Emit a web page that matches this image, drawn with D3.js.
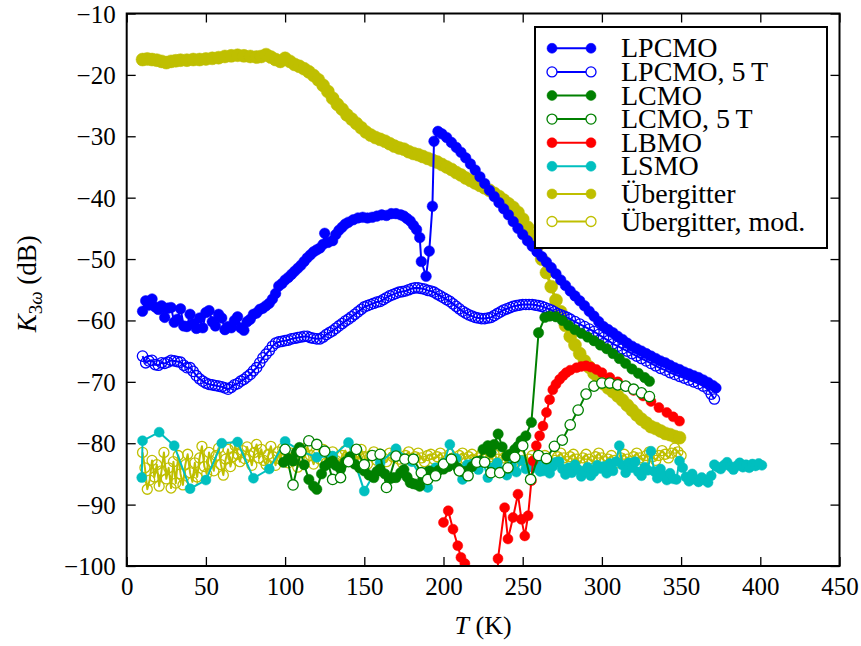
<!DOCTYPE html>
<html>
<head>
<meta charset="utf-8">
<script src="https://cdn.jsdelivr.net/npm/d3@7"></script>
<style>
  body { margin: 0; background: #fff; }
  text { font-family: "Liberation Serif", serif; fill: #000; }
</style>
</head>
<body>
<div id="wrapper"></div>
<script>

// [T (K), K3w (dB)]
const lpcmo = [[10,-58.5],[12,-56.8],[14,-57.5],[16,-56.5],[18,-57.8],[20,-58.2],[22,-57.6],[24,-59.5],[26,-58.0],[28,-57.9],[30,-60.3],[32,-59.8],[34,-58.1],[36,-60.9],[38,-61.0],[40,-59.0],[42,-60.5],[44,-61.3],[46,-59.6],[48,-61.2],[50,-58.7],[52,-58.4],[54,-60.2],[56,-60.9],[58,-59.0],[60,-59.6],[62,-61.5],[64,-61.0],[66,-61.2],[68,-60.0],[70,-59.4],[72,-61.2],[74,-61.6],[76,-60.2],[78,-59.8],[80,-59.0],[82,-58.8],[84,-58.2],[86,-58.0],[88,-57.6],[90,-57.2],[92,-56.5],[94,-55.6],[96,-54.4],[98,-54.0],[100,-53.4],[102,-53.0],[104,-52.5],[106,-52.0],[108,-51.5],[110,-51.0],[112,-50.4],[114,-49.8],[116,-49.3],[118,-48.8],[120,-48.5],[122,-48.2],[124,-47.6],[125,-45.8],[127,-47.3],[130,-47.0],[132,-46.0],[134,-45.3],[136,-44.8],[138,-44.3],[140,-44.0],[143,-43.6],[146,-43.3],[149,-43.2],[152,-43.3],[155,-43.2],[158,-43.0],[161,-42.8],[164,-42.9],[167,-42.6],[170,-42.6],[173,-42.8],[175,-43.0],[177,-43.4],[179,-43.8],[181,-44.5],[183,-45.2],[185,-46.5],[186,-50.4],[189,-52.8],[191,-48.7],[193,-41.4],[194,-30.8],[196.5,-29.2],[199,-29.6],[202,-30.2],[205,-31.0],[208,-31.8],[211,-32.6],[214,-33.5],[217,-34.5],[220,-35.5],[223,-36.6],[226,-37.7],[229,-38.8],[232,-39.8],[235,-40.8],[238,-41.8],[241,-42.8],[244,-43.9],[247,-45.0],[250,-46.0],[253,-47.0],[256,-47.9],[259,-48.8],[262,-49.6],[265,-50.5],[268,-51.4],[271,-52.4],[274,-53.4],[277,-54.3],[280,-55.2],[283,-56.0],[286,-56.8],[289,-57.6],[292,-58.5],[295,-59.3],[298,-60.2],[301,-61.0],[304,-61.5],[307,-62.0],[310,-62.6],[313,-63.1],[316,-63.7],[319,-64.2],[322,-64.6],[325,-65.0],[328,-65.4],[331,-65.8],[334,-66.2],[337,-66.6],[340,-66.9],[343,-67.3],[346,-67.7],[349,-68.0],[352,-68.4],[355,-68.7],[358,-69.0],[361,-69.3],[364,-69.7],[367,-70.1],[370,-70.6],[372,-71.0]]

const lpcmo5T = [[10,-65.8],[12,-66.9],[14,-66.6],[16,-66.5],[18,-67.2],[20,-67.3],[22,-66.9],[24,-67.0],[26,-66.8],[28,-66.5],[30,-66.6],[32,-66.7],[34,-66.8],[36,-67.3],[38,-67.7],[40,-67.7],[42,-68.3],[44,-69.0],[46,-69.5],[48,-69.9],[50,-70.2],[52,-70.4],[54,-70.5],[56,-70.6],[58,-70.7],[60,-70.8],[62,-71.0],[64,-71.2],[66,-70.9],[68,-70.5],[70,-70.3],[72,-69.9],[74,-69.6],[76,-69.2],[78,-68.8],[80,-68.2],[82,-67.7],[84,-66.9],[86,-66.1],[88,-65.5],[90,-64.9],[92,-64.2],[94,-63.7],[96,-63.5],[98,-63.4],[100,-63.3],[102,-63.2],[104,-63.0],[106,-62.9],[108,-62.8],[110,-62.7],[112,-62.6],[114,-62.6],[116,-62.8],[118,-62.9],[120,-63.0],[122,-63.0],[124,-62.7],[126,-62.3],[128,-62.0],[130,-61.7],[132,-61.3],[134,-60.9],[136,-60.5],[138,-60.1],[140,-59.8],[142,-59.4],[144,-59.0],[146,-58.6],[148,-58.2],[150,-57.8],[152,-57.6],[154,-57.4],[156,-57.2],[158,-57.0],[160,-56.9],[162,-56.6],[164,-56.3],[166,-56.0],[168,-55.8],[170,-55.6],[172,-55.4],[174,-55.3],[176,-55.2],[178,-55.0],[180,-54.8],[182,-54.7],[184,-54.7],[186,-54.8],[188,-54.9],[190,-55.1],[192,-55.2],[194,-55.4],[196,-55.7],[198,-56.0],[200,-56.3],[202,-56.6],[204,-56.9],[206,-57.3],[208,-57.7],[210,-58.1],[212,-58.5],[214,-58.8],[216,-59.1],[218,-59.3],[220,-59.5],[222,-59.6],[224,-59.7],[226,-59.7],[228,-59.6],[230,-59.5],[232,-59.2],[234,-58.9],[236,-58.6],[238,-58.3],[240,-58.1],[242,-57.9],[244,-57.7],[246,-57.6],[248,-57.5],[250,-57.4],[252,-57.4],[254,-57.4],[256,-57.4],[258,-57.5],[260,-57.6],[262,-57.7],[264,-57.9],[266,-58.1],[268,-58.3],[270,-58.6],[272,-58.9],[274,-59.1],[276,-59.3],[278,-59.5],[280,-59.8],[283,-60.2],[286,-60.6],[289,-61.0],[292,-61.4],[295,-61.8],[298,-62.3],[301,-62.8],[304,-63.3],[307,-63.8],[310,-64.2],[313,-64.6],[316,-65.0],[319,-65.4],[322,-65.8],[325,-66.2],[328,-66.6],[331,-67.0],[334,-67.4],[337,-67.8],[340,-68.1],[343,-68.5],[346,-68.8],[349,-69.1],[352,-69.4],[355,-69.7],[358,-70.0],[361,-70.3],[364,-70.7],[367,-71.2],[369,-72.0],[371,-72.8]]

const lcmo = [[99,-83.1],[102,-82.5],[105,-82.9],[107,-81.5],[109,-80.7],[112,-83.5],[115,-85.9],[118,-87.0],[120,-87.5],[123,-85.0],[125,-83.7],[128,-83.2],[130,-82.9],[132,-83.6],[135,-84.2],[138,-83.0],[141,-82.2],[144,-83.4],[147,-84.0],[150,-84.5],[153,-85.2],[156,-85.6],[158,-84.6],[160,-84.2],[163,-85.0],[166,-85.8],[168,-85.6],[170,-85.6],[173,-84.8],[175,-84.3],[177,-85.5],[179,-86.4],[181,-86.6],[183,-86.7],[185,-87.0],[187,-85.8],[189,-84.8],[191,-84.5],[194,-84.8],[197,-84.4],[200,-84.2],[203,-83.8],[206,-83.2],[209,-84.0],[212,-84.6],[215,-84.5],[218,-83.8],[221,-83.0],[223,-82.9],[225,-81.0],[228,-80.4],[230,-81.5],[232,-80.2],[234.5,-78.5],[237,-80.6],[240,-82.1],[242,-81.8],[245,-81.0],[247,-80.5],[249,-79.6],[252,-78.8],[255.5,-76.6],[260,-62.0],[264,-59.5],[267,-59.3],[271,-59.4],[275,-60.0],[279,-60.8],[283,-61.5],[287,-62.1],[291,-62.7],[295,-63.3],[299,-64.0],[303,-64.6],[307,-65.4],[311,-66.2],[315,-67.0],[319,-67.9],[323,-68.6],[327,-69.3],[330,-69.9]]

const lcmo5T = [[100,-81.0],[105,-86.8],[110,-81.4],[115,-79.6],[120,-80.2],[125,-81.3],[130,-85.9],[135,-85.6],[140,-83.0],[145,-81.0],[150,-83.5],[155,-82.0],[160,-81.8],[164,-87.2],[170,-82.1],[175.6,-82.6],[181,-82.6],[186,-84.8],[190,-85.9],[195,-85.3],[200,-83.4],[205,-82.6],[210,-84.5],[215.5,-85.3],[221,-83.1],[226,-83.1],[230,-84.8],[235.5,-84.8],[240.7,-84.0],[245,-82.3],[250,-80.4],[255,-85.9],[260,-82.0],[265,-82.5],[270,-80.5],[275,-79.5],[280,-77.0],[285,-74.6],[290,-72.0],[295,-70.7],[300,-70.2],[305,-70.2],[310,-70.5],[315,-70.7],[320,-71.2],[325,-71.8],[330,-72.4]]

const lbmo = [[200,-92.9],[203,-91.0],[206,-94.0],[209,-96.7],[211,-98.6],[213.5,-99.6],[215.5,-106],[234.2,-106],[234.4,-98.8],[238.6,-90.5],[240.7,-95.6],[243.9,-92.1],[247,-88.3],[249.2,-92.4],[251.3,-95.1],[253.4,-91.8],[255.5,-86.1],[256.5,-82.9],[258.6,-80.4],[260.7,-78.8],[262.8,-77.2],[265,-75.0],[267,-72.9],[269,-71.3],[271,-70.4],[273.3,-69.6],[275.5,-69.0],[277.5,-68.5],[280,-68.1],[284,-67.7],[287,-67.5],[290,-67.4],[293,-67.6],[296.5,-68.0],[300,-68.5],[305,-69.3],[310,-70.0],[315,-70.7],[320,-71.4],[326,-72.3],[331,-73.2],[336,-74.2],[341,-75.0],[345,-75.7],[349,-76.4]]

const lsmo = [[9.5,-85.6],[10,-79.6],[20.5,-78.2],[30,-80.4],[40,-87.4],[50,-86.0],[60,-80.0],[70,-79.8],[80,-85.7],[90,-84.2],[100,-79.7],[110,-81.3],[120,-82.3],[130,-82.1],[140,-79.9],[150,-87.8],[160,-83.2],[170,-80.9],[180,-83.0],[190,-87.2],[195,-84.0],[200,-83.3],[204,-80.2],[208,-82.5],[212,-85.9],[215,-83.5],[218,-83.4],[222,-84.3],[225,-83.0],[228,-85.6],[231,-84.0],[234,-83.2],[237.5,-84.5],[240,-85.2],[243,-83.6],[246,-84.7],[249,-82.8],[252,-84.2],[255,-83.8],[257,-84.0],[259,-83.2],[261,-84.6],[263,-84.5],[265,-83.6],[267,-84.9],[269,-83.8],[271,-83.1],[273,-83.0],[275,-84.2],[277,-85.1],[279,-84.0],[281,-84.8],[283,-83.5],[285,-84.3],[287,-85.4],[289,-84.6],[291,-83.9],[293,-85.3],[295,-84.7],[297,-83.6],[299,-84.1],[301,-83.8],[303,-84.9],[305,-83.3],[307,-84.5],[309,-83.0],[311,-80.4],[313,-83.6],[315,-84.8],[317,-83.2],[319,-84.0],[321,-83.0],[323,-84.7],[325,-85.3],[327,-83.9],[329,-84.4],[331,-81.3],[333,-84.6],[335,-85.7],[337,-84.2],[339,-85.3],[341,-86.0],[343,-84.9],[345,-85.8],[347,-85.9],[349,-82.9],[351,-84.0],[353,-85.5],[355,-86.2],[357,-85.0],[359,-85.9],[361,-86.3],[363,-85.6],[365,-86.0],[367,-86.4],[369,-85.3],[371,-83.5],[373,-83.9],[375,-84.2],[377,-83.6],[379,-83.1],[381,-83.8],[383,-84.3],[385,-83.7],[387,-83.2],[389,-83.9],[391,-83.5],[393,-84.0],[395,-83.4],[397,-83.7],[399,-83.3],[401,-83.6]]

const uebergitter = [[10,-17.5],[13,-17.4],[16,-17.5],[19,-17.6],[22,-17.8],[25,-18.0],[28,-17.8],[31,-17.7],[34,-17.6],[38,-17.6],[42,-17.5],[46,-17.5],[50,-17.4],[54,-17.3],[58,-17.2],[62,-17.0],[66,-16.9],[70,-16.8],[74,-16.9],[78,-17.0],[82,-17.1],[85,-17.0],[88,-16.7],[91,-17.1],[94,-17.5],[97,-17.8],[100,-17.3],[103,-17.8],[106,-18.3],[109,-18.6],[112,-19.0],[115,-19.5],[118,-20.1],[121,-20.8],[124,-21.7],[127,-22.7],[130,-23.8],[133,-24.8],[136,-25.6],[139,-26.5],[142,-27.2],[145,-27.9],[148,-28.6],[151,-29.3],[154,-29.8],[157,-30.2],[160,-30.5],[163,-30.8],[166,-31.2],[169,-31.6],[172,-31.9],[175,-32.1],[178,-32.5],[181,-32.8],[184,-33.0],[187,-33.3],[190,-33.6],[193,-33.9],[196,-34.2],[199,-34.6],[202,-35.0],[205,-35.4],[208,-35.9],[211,-36.3],[214,-36.8],[217,-37.2],[220,-37.6],[223,-38.0],[226,-38.4],[229,-38.8],[232,-39.3],[235,-39.8],[238,-40.4],[241,-41.0],[244,-41.6],[247,-42.4],[250,-43.5],[253,-44.8],[256,-46.3],[259,-48.0],[262,-50.0],[265,-52.2],[268,-54.5],[271,-56.7],[274,-58.6],[277,-60.8],[280,-62.6],[283,-64.0],[286,-65.4],[289,-66.6],[292,-67.6],[295,-68.6],[298,-69.5],[301,-70.3],[304,-71.0],[307,-71.6],[310,-72.3],[313,-73.0],[316,-73.8],[319,-74.6],[322,-75.4],[325,-76.1],[328,-76.7],[331,-77.3],[334,-77.6],[337,-78.0],[340,-78.4],[343,-78.6],[346,-78.9],[349,-79.1]]

const uebergitterMod = [[10,-81.5],[11.5,-84.0],[13,-87.5],[14.5,-86.0],[16,-82.8],[17.5,-85.5],[19,-83.5],[20.5,-87.0],[22,-84.5],[23.5,-81.5],[25,-85.8],[26.5,-84.0],[28,-87.3],[29.5,-83.0],[31,-86.5],[32.5,-82.0],[34,-85.0],[35.5,-86.8],[37,-83.5],[38.5,-81.8],[40,-84.8],[41.5,-86.3],[43,-83.2],[44.5,-85.5],[46,-82.4],[47.5,-80.5],[49,-83.8],[50.5,-85.0],[52,-81.5],[53.5,-83.0],[55,-84.5],[56.5,-82.0],[58,-80.8],[59.5,-83.5],[61,-85.2],[62.5,-82.6],[64,-81.0],[65.5,-83.8],[67,-82.2],[68.5,-80.4],[70,-81.8],[71.5,-83.0],[73,-81.2],[74.5,-82.5],[76,-80.6],[77.5,-82.0],[79,-83.6],[80.5,-81.5],[82,-80.2],[83.5,-82.4],[85,-81.0],[86.5,-82.8],[88,-83.5],[89.5,-81.8],[91,-80.5],[92.5,-82.2],[94,-83.6],[95.5,-81.4],[97,-82.6],[98.5,-80.8],[100,-82.0],[102,-83.2],[104,-81.6],[106,-82.8],[108,-83.9],[110,-81.2],[112,-82.4],[114,-80.6],[116,-82.0],[118,-83.4],[120,-81.8],[122,-82.6],[124,-81.0],[126,-83.2],[128,-82.2],[130,-81.4],[132,-82.8],[134,-83.6],[136,-82.0],[138,-81.2],[140,-82.4],[142,-83.0],[144,-81.6],[146,-82.6],[148,-81.0],[150,-82.2],[152,-83.4],[154,-82.0],[156,-81.4],[158,-82.8],[160,-81.8],[162,-82.4],[164,-83.0],[166,-81.6],[168,-82.2],[170,-81.2],[172,-82.6],[174,-83.2],[176,-82.0],[178,-81.4],[180,-82.8],[182,-82.2],[184,-81.6],[186,-82.4],[188,-83.0],[190,-82.0],[192,-81.8],[194,-82.6],[196,-82.2],[198,-81.6],[200,-82.4],[202,-82.8],[204,-81.8],[206,-82.4],[208,-83.0],[210,-82.0],[212,-81.6],[214,-82.6],[216,-82.2],[218,-81.8],[220,-82.8],[222,-82.4],[224,-81.8],[226,-82.6],[228,-83.0],[230,-82.2],[232,-81.8],[234,-82.6],[236,-83.2],[238,-82.4],[240,-82.0],[242,-82.8],[244,-83.4],[246,-82.6],[248,-82.0],[250,-82.8],[252,-83.2],[254,-82.6],[256,-82.0],[258,-82.6],[260,-83.0],[262,-82.4],[264,-82.0],[266,-82.8],[268,-83.4],[270,-82.8],[272,-82.2],[274,-81.6],[276,-82.4],[278,-83.0],[280,-82.2],[282,-81.8],[284,-82.6],[286,-83.2],[288,-82.4],[290,-81.8],[292,-82.6],[294,-83.0],[296,-82.2],[298,-81.6],[300,-82.4],[302,-83.0],[304,-82.6],[306,-82.0],[308,-82.8],[310,-83.2],[312,-82.4],[314,-81.8],[316,-82.6],[318,-83.0],[320,-82.2],[322,-81.6],[324,-82.4],[326,-82.8],[328,-82.0],[330,-81.4],[332,-82.2],[334,-82.8],[336,-82.0],[338,-81.2],[340,-81.8],[342,-82.4],[344,-81.6],[346,-80.8],[348,-81.4],[350,-82.0]]

const xTicks = [0, 50, 100, 150, 200, 250, 300, 350, 400, 450]
const yTicks = [-100, -90, -80, -70, -60, -50, -40, -30, -20, -10]

const legendLabels = ["LPCMO", "LPCMO, 5\u2009T", "LCMO", "LCMO, 5\u2009T", "LBMO", "LSMO", "Übergitter", "Übergitter, mod."]

function drawChart() {

  let dimensions = {
    width: 861,
    height: 646,
    margin: {
      top: 13.5,
      right: 21.5,
      bottom: 80,
      left: 126.7,
    },
  }
  dimensions.boundedWidth = dimensions.width
    - dimensions.margin.left
    - dimensions.margin.right
  dimensions.boundedHeight = dimensions.height
    - dimensions.margin.top
    - dimensions.margin.bottom

  const xScale = d3.scaleLinear()
    .domain([0, 450])
    .range([0, dimensions.boundedWidth])

  const yScale = d3.scaleLinear()
    .domain([-100, -10])
    .range([dimensions.boundedHeight, 0])

  const wrapper = d3.select("#wrapper")
    .append("svg")
    .attr("width", dimensions.width)
    .attr("height", dimensions.height)

  const bounds = wrapper.append("g")
    .attr("transform", `translate(${dimensions.margin.left},${dimensions.margin.top})`)

  wrapper.append("defs").append("clipPath")
    .attr("id", "plot-clip")
    .append("rect")
    .attr("width", dimensions.boundedWidth)
    .attr("height", dimensions.boundedHeight)

  // label, data, colour, marker fill, marker radius -- in the order they are drawn
  const series = [
    { label: legendLabels[6], data: uebergitter, color: "#bfbf00", fill: "#bfbf00", r: 6.5, lw: 3 },
    { label: legendLabels[7], data: uebergitterMod, color: "#bfbf00", fill: "none", r: 5, lw: 2 },
    { label: legendLabels[5], data: lsmo, color: "#00bfbf", fill: "#00bfbf", r: 5, lw: 2 },
    { label: legendLabels[4], data: lbmo, color: "#ff0000", fill: "#ff0000", r: 5, lw: 2 },
    { label: legendLabels[0], data: lpcmo, color: "#0000ff", fill: "#0000ff", r: 5.3, lw: 2 },
    { label: legendLabels[1], data: lpcmo5T, color: "#0000ff", fill: "none", r: 5.2, lw: 2 },
    { label: legendLabels[2], data: lcmo, color: "#008000", fill: "#008000", r: 5.2, lw: 2 },
    { label: legendLabels[3], data: lcmo5T, color: "#008000", fill: "#ffffff", r: 5.2, lw: 2 },
  ]

  const lineGenerator = d3.line()
    .x(d => xScale(d[0]))
    .y(d => yScale(d[1]))

  const plot = bounds.append("g")
    .attr("clip-path", "url(#plot-clip)")

  series.forEach(s => {
    const g = plot.append("g")
    g.append("path")
      .attr("d", lineGenerator(s.data))
      .attr("fill", "none")
      .attr("stroke", s.color)
      .attr("stroke-width", s.lw)
      .attr("stroke-linejoin", "round")
    g.selectAll("circle")
      .data(s.data)
      .enter().append("circle")
      .attr("cx", d => xScale(d[0]))
      .attr("cy", d => yScale(d[1]))
      .attr("r", s.r)
      .attr("fill", s.fill)
      .attr("stroke", s.color)
      .attr("stroke-width", s.fill == "none" || s.fill == "#ffffff" ? 1.3 : 0.5)
  })

  // axes: inward ticks on all four sides
  const xAxis = bounds.append("g")
    .attr("transform", `translate(0,${dimensions.boundedHeight})`)
    .call(d3.axisBottom(xScale).tickValues(xTicks).tickFormat(d3.format("d")).tickSize(-9).tickPadding(11))
  const xAxisTop = bounds.append("g")
    .call(d3.axisTop(xScale).tickValues(xTicks).tickSize(-9).tickFormat(""))
  const yAxis = bounds.append("g")
    .call(d3.axisLeft(yScale).tickValues(yTicks).tickFormat(d3.format("d")).tickSize(-9).tickPadding(11))
  const yAxisRight = bounds.append("g")
    .attr("transform", `translate(${dimensions.boundedWidth},0)`)
    .call(d3.axisRight(yScale).tickValues(yTicks).tickSize(-9).tickFormat(""))

  ;[xAxis, xAxisTop, yAxis, yAxisRight].forEach(a => {
    a.select(".domain").remove()
    a.selectAll(".tick line").attr("stroke", "#000").attr("stroke-width", 1.3)
    a.selectAll(".tick text")
      .style("font-family", '"Liberation Serif", serif')
      .style("font-size", "25px")
  })
  yAxis.selectAll(".tick text").attr("dy", "0.34em")

  bounds.append("rect")
    .attr("width", dimensions.boundedWidth)
    .attr("height", dimensions.boundedHeight)
    .attr("fill", "none")
    .attr("stroke", "#000")
    .attr("stroke-width", 2)

  // axis labels
  const xLabel = wrapper.append("text")
    .attr("x", dimensions.margin.left + dimensions.boundedWidth / 2)
    .attr("y", 634)
    .attr("text-anchor", "middle")
    .style("font-size", "26px")
  xLabel.append("tspan").style("font-style", "italic").text("T")
  xLabel.append("tspan").text(" (K)")

  const yLabel = wrapper.append("text")
    .attr("transform", `translate(36,${dimensions.margin.top + dimensions.boundedHeight / 2 - 6}) rotate(-90)`)
    .attr("text-anchor", "middle")
    .style("font-size", "27px")
  yLabel.append("tspan").style("font-style", "italic").text("K")
  yLabel.append("tspan").attr("dy", 6).style("font-size", "19px").text("3")
  yLabel.append("tspan").style("font-size", "19px").style("font-style", "italic").text("ω")
  yLabel.append("tspan").attr("dy", -6).text(" (dB)")

  // legend
  const legendOrder = [4, 5, 6, 7, 3, 2, 0, 1]
  const legendGroup = wrapper.append("g")
    .attr("transform", "translate(535,27)")
  legendGroup.append("rect")
    .attr("width", 292)
    .attr("height", 221)
    .attr("fill", "#fff")
    .attr("stroke", "#000")
    .attr("stroke-width", 2)

  legendOrder.forEach((si, i) => {
    const s = series[si]
    const rowY = 21.3 + 23.6 * i + 4 * Math.max(0, i - 5)
    const row = legendGroup.append("g")
      .attr("transform", `translate(0,${rowY})`)
    row.append("line")
      .attr("x1", 17).attr("x2", 56)
      .attr("stroke", s.color)
      .attr("stroke-width", 2)
    row.selectAll("circle")
      .data([17, 56])
      .enter().append("circle")
      .attr("cx", d => d)
      .attr("r", 5)
      .attr("fill", s.fill == "none" ? "#fff" : s.fill)
      .attr("stroke", s.color)
      .attr("stroke-width", s.fill == "none" || s.fill == "#ffffff" ? 1.3 : 0.5)
    row.append("text")
      .attr("x", 86)
      .attr("y", 9)
      .style("font-size", "28px")
      .text(s.label)
  })
}

drawChart()

</script>
</body>
</html>
